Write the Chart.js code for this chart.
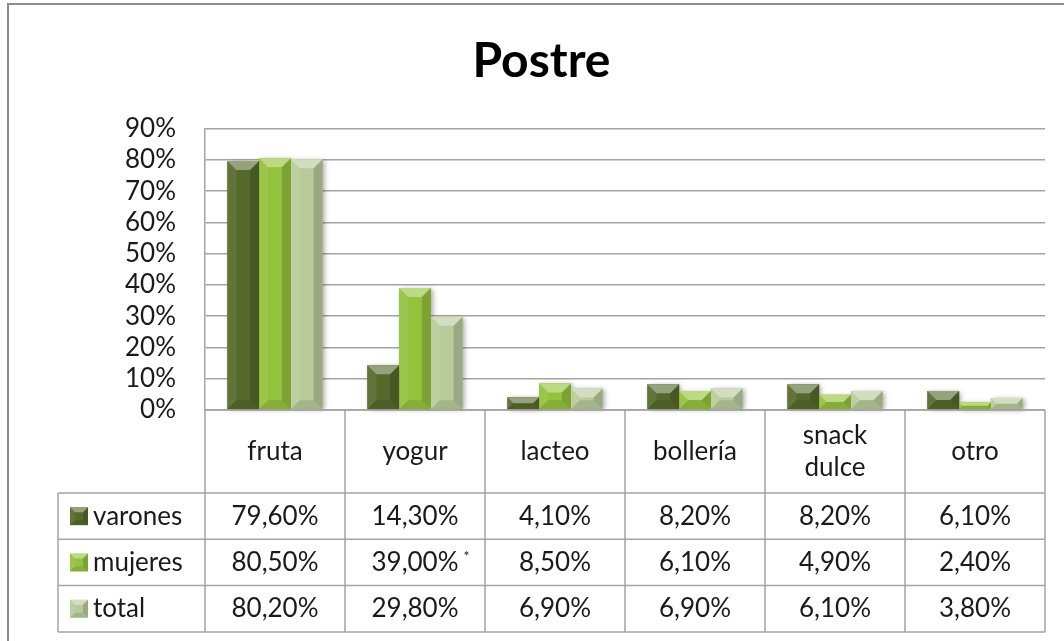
<!DOCTYPE html>
<html>
<head>
<meta charset="utf-8">
<script src="https://cdn.jsdelivr.net/npm/chart.js@4.4.0/dist/chart.umd.min.js"></script>
<style>
html, body { margin: 0; padding: 0; background: #fff; }
#wrap { width: 1064px; height: 641px; }
</style>
</head>
<body>
<div id="wrap"><canvas id="postreChart" width="1064" height="641"></canvas></div>
<script>
// data
const categories = [['fruta'], ['yogur'], ['lacteo'], ['bollería'], ['snack', 'dulce'], ['otro']];
const seriesNames = ['varones', 'mujeres', 'total'];
const varones = [79.6, 14.3, 4.1, 8.2, 8.2, 6.1];
const mujeres = [80.5, 39.0, 8.5, 6.1, 4.9, 2.4];
const total = [80.2, 29.8, 6.9, 6.9, 6.1, 3.8];
const varonesMarks = ['', '', '', '', '', ''];
const mujeresMarks = ['', '*', '', '', '', ''];
const totalMarks = ['', '', '', '', '', ''];
const yMax = 90;
const yStep = 10;

const colors = ['#56692b', '#93c23c', '#b8ca9a'];
const FONT = 'Lato, "Liberation Sans", sans-serif';
const TEXT = '#1a1a1a';
const LINE = '#a4a4a4';

function fmt(v) {
    return v.toFixed(2).replace('.', ',') + '%';
}

function bevel(ctx, left, top, right, bottom, maxB) {
    let b = Math.min(maxB, (bottom - top) / 2, (right - left) / 2);
    if (b <= 0) return;
    ctx.fillStyle = 'rgba(255,255,255,0.38)';
    ctx.beginPath();
    ctx.moveTo(left, top); ctx.lineTo(right, top);
    ctx.lineTo(right - b, top + b); ctx.lineTo(left + b, top + b);
    ctx.closePath(); ctx.fill();
    ctx.fillStyle = 'rgba(0,0,0,0.10)';
    ctx.beginPath();
    ctx.moveTo(left, bottom); ctx.lineTo(right, bottom);
    ctx.lineTo(right - b, bottom - b); ctx.lineTo(left + b, bottom - b);
    ctx.closePath(); ctx.fill();
    ctx.fillStyle = 'rgba(255,255,255,0.08)';
    ctx.beginPath();
    ctx.moveTo(left, top); ctx.lineTo(left + b, top + b);
    ctx.lineTo(left + b, bottom - b); ctx.lineTo(left, bottom);
    ctx.closePath(); ctx.fill();
    ctx.fillStyle = 'rgba(0,0,0,0.16)';
    ctx.beginPath();
    ctx.moveTo(right, top); ctx.lineTo(right - b, top + b);
    ctx.lineTo(right - b, bottom - b); ctx.lineTo(right, bottom);
    ctx.closePath(); ctx.fill();
}

const barShadow = {
    id: 'barShadow',
    beforeDatasetsDraw(chart) {
        const ctx = chart.ctx;
        ctx.save();
        ctx.shadowColor = 'rgba(0,0,0,0.35)';
        ctx.shadowBlur = 5;
        ctx.shadowOffsetX = 2;
        ctx.shadowOffsetY = 1;
        chart.data.datasets.forEach((ds, i) => {
            chart.getDatasetMeta(i).data.forEach(bar => {
                ctx.fillStyle = ds.backgroundColor;
                ctx.fillRect(bar.x - bar.width / 2, bar.y, bar.width, bar.base - bar.y);
            });
        });
        ctx.restore();
    },
    afterDatasetsDraw(chart) {
        const ctx = chart.ctx;
        ctx.save();
        chart.data.datasets.forEach((ds, i) => {
            chart.getDatasetMeta(i).data.forEach(bar => {
                bevel(ctx, bar.x - bar.width / 2, bar.y, bar.x + bar.width / 2, bar.base, 9);
            });
        });
        ctx.restore();
    }
};

const dataTable = {
    id: 'dataTable',
    afterDraw(chart) {
        const ctx = chart.ctx;
        const area = chart.chartArea;
        const xs = chart.scales.x;
        const top = area.bottom;
        const headH = 83;
        const rowH = 46.3;
        const labelLeft = 58;
        const rows = [varones, mujeres, total];
        const marks = [varonesMarks, mujeresMarks, totalMarks];
        const bottom = top + headH + rowH * rows.length;

        // column edges from the category scale
        const edges = [area.left];
        for (let i = 0; i < categories.length - 1; i++) {
            edges.push((xs.getPixelForValue(i) + xs.getPixelForValue(i + 1)) / 2);
        }
        edges.push(area.right);

        ctx.save();
        // outer frame
        ctx.strokeStyle = '#8c8c8c';
        ctx.lineWidth = 2;
        ctx.strokeRect(8, 4, 1200, 800);

        ctx.strokeStyle = LINE;
        ctx.lineWidth = 1.5;
        ctx.beginPath();
        ctx.moveTo(area.left, top); ctx.lineTo(area.right, top);
        for (let r = 0; r <= rows.length; r++) {
            let y = top + headH + rowH * r;
            ctx.moveTo(labelLeft, y); ctx.lineTo(area.right, y);
        }
        edges.forEach(x => { ctx.moveTo(x, top); ctx.lineTo(x, bottom); });
        ctx.moveTo(labelLeft, top + headH); ctx.lineTo(labelLeft, bottom);
        ctx.stroke();

        ctx.fillStyle = TEXT;
        ctx.font = '26px ' + FONT;
        ctx.textAlign = 'center';
        ctx.textBaseline = 'middle';
        categories.forEach((lines, i) => {
            let cx = (edges[i] + edges[i + 1]) / 2;
            let cy = top + headH / 2;
            lines.forEach((t, k) => {
                ctx.fillText(t, cx, cy + (k - (lines.length - 1) / 2) * 32);
            });
        });

        rows.forEach((vals, r) => {
            let cy = top + headH + rowH * r + rowH / 2;
            // legend key
            let sx = 70, s = 18;
            ctx.fillStyle = colors[r];
            ctx.fillRect(sx, cy - s / 2, s, s);
            bevel(ctx, sx, cy - s / 2, sx + s, cy + s / 2, 5);
            ctx.fillStyle = TEXT;
            ctx.textAlign = 'left';
            ctx.font = '26px ' + FONT;
            ctx.fillText(seriesNames[r], 93, cy);
            ctx.textAlign = 'center';
            vals.forEach((v, i) => {
                let cx = (edges[i] + edges[i + 1]) / 2;
                ctx.font = '26px ' + FONT;
                ctx.fillText(fmt(v), cx, cy);
                if (marks[r][i]) {
                    let w = ctx.measureText(fmt(v)).width;
                    ctx.font = '14px ' + FONT;
                    ctx.textAlign = 'left';
                    ctx.fillText(marks[r][i], cx + w / 2 + 5, cy - 6);
                    ctx.textAlign = 'center';
                }
            });
        });
        ctx.restore();
    }
};

const ctx = document.getElementById('postreChart').getContext('2d');
const postreChart = new Chart(ctx, {
    type: 'bar',
    data: {
        labels: categories,
        datasets: [
            { label: seriesNames[0], data: varones, backgroundColor: colors[0] },
            { label: seriesNames[1], data: mujeres, backgroundColor: colors[1] },
            { label: seriesNames[2], data: total, backgroundColor: colors[2] }
        ]
    },
    options: {
        responsive: false,
        animation: false,
        devicePixelRatio: 1,
        layout: { padding: { top: 0, left: 38, right: 19, bottom: 231 } },
        datasets: {
            bar: { categoryPercentage: 0.68, barPercentage: 1.0 }
        },
        plugins: {
            legend: { display: false },
            tooltip: { enabled: false },
            title: {
                display: true,
                text: 'Postre',
                color: '#000',
                font: { family: FONT, size: 48, weight: 'bold' },
                padding: { top: 33, bottom: 38 }
            }
        },
        scales: {
            x: { display: false },
            y: {
                min: 0,
                max: yMax,
                afterFit(scale) { scale.width = 167; },
                ticks: {
                    stepSize: yStep,
                    autoSkip: false,
                    padding: 29,
                    color: TEXT,
                    font: { family: FONT, size: 26 },
                    callback: v => v + '%'
                },
                grid: { color: LINE, lineWidth: 1.5, drawTicks: false },
                border: { color: LINE, width: 1.5 }
            }
        }
    },
    plugins: [barShadow, dataTable]
});
</script>
</body>
</html>
